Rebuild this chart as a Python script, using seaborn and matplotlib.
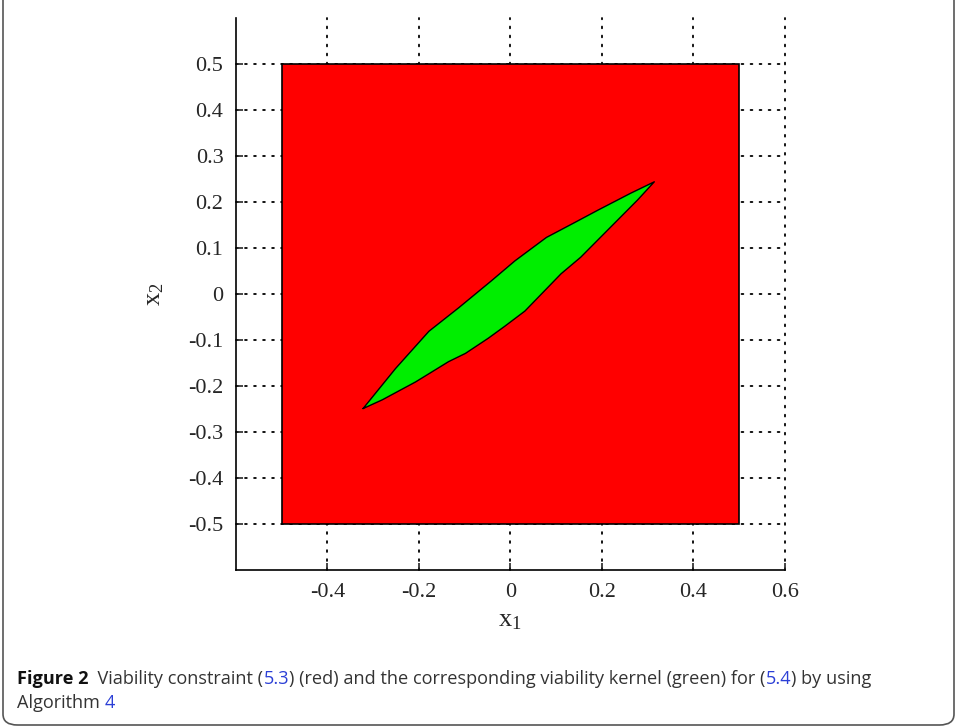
import numpy as np
import pandas as pd
import matplotlib
matplotlib.use("Agg")
import matplotlib.pyplot as plt
import seaborn as sns
from matplotlib.patches import Rectangle, FancyBboxPatch

# viability constraint (red square)
constraint_lo = -0.5
constraint_hi = 0.5

# viability kernel boundary
upper_x = [-0.322, -0.251, -0.178, -0.113, -0.041, 0.010, 0.079, 0.140, 0.191, 0.263, 0.315]
upper_y = [-0.249, -0.162, -0.081, -0.030, 0.029, 0.072, 0.123, 0.155, 0.182, 0.219, 0.244]
lower_x = [-0.322, -0.280, -0.207, -0.135, -0.098, -0.048, -0.012, 0.032, 0.111, 0.154, 0.228, 0.278, 0.315]
lower_y = [-0.249, -0.230, -0.191, -0.147, -0.129, -0.096, -0.070, -0.037, 0.044, 0.080, 0.154, 0.204, 0.244]

x_ticks = [-0.4, -0.2, 0, 0.2, 0.4, 0.6]
x_ticklabels = ["-0.4", "-0.2", "0", "0.2", "0.4", "0.6"]
y_ticks = [-0.5, -0.4, -0.3, -0.2, -0.1, 0, 0.1, 0.2, 0.3, 0.4, 0.5]
y_ticklabels = ["-0.5", "-0.4", "-0.3", "-0.2", "-0.1", "0", "0.1", "0.2", "0.3", "0.4", "0.5"]

caption_line1 = [
    ("Figure 2", "bold", "#111111"),
    ("  Viability constraint (", "normal", "#333333"),
    ("5.3", "normal", "#2b3fd6"),
    (") (red) and the corresponding viability kernel (green) for (", "normal", "#333333"),
    ("5.4", "normal", "#2b3fd6"),
    (") by using", "normal", "#333333"),
]
caption_line2 = [
    ("Algorithm ", "normal", "#333333"),
    ("4", "normal", "#2b3fd6"),
]

sns.set_style("ticks")
plt.rcParams["axes.unicode_minus"] = False

fig = plt.figure(figsize=(9.58, 7.28), dpi=100)
ax = fig.add_axes([0.2463, 0.2170, 0.5727, 0.7582])

# outline of the kernel as a closed polygon
poly_x = upper_x + lower_x[::-1]
poly_y = upper_y + lower_y[::-1]
kernel = pd.DataFrame({"x1": poly_x, "x2": poly_y})

ax.add_patch(Rectangle((constraint_lo, constraint_lo), constraint_hi - constraint_lo,
                       constraint_hi - constraint_lo, facecolor="#ff0000",
                       edgecolor="black", lw=1.2, zorder=2))
ax.fill(poly_x, poly_y, color="#00ee00", zorder=3, lw=0)
sns.lineplot(data=kernel, x="x1", y="x2", sort=False, estimator=None,
             color="black", lw=1.0, ax=ax, zorder=4)

ax.set_xlim(-0.6, 0.6)
ax.set_ylim(-0.6, 0.6)
ax.set_xticks(x_ticks)
ax.set_xticklabels(x_ticklabels)
ax.set_yticks(y_ticks)
ax.set_yticklabels(y_ticklabels)
ax.tick_params(direction="in", length=5, width=1.2, labelsize=16, pad=9)
for lab in ax.get_xticklabels() + ax.get_yticklabels():
    lab.set_fontfamily("Liberation Serif")

ax.set_axisbelow(True)
ax.grid(True, color="black", linestyle=(0, (1, 4)), lw=1.3)
for gl in ax.xaxis.get_gridlines() + ax.yaxis.get_gridlines():
    gl.set_clip_on(False)
    gl.set_dash_capstyle("round")

sns.despine(ax=ax)
for sp in ["left", "bottom"]:
    ax.spines[sp].set_linewidth(1.2)
    ax.spines[sp].set_color("black")

ax.set_xlabel(r"x$\mathregular{_1}$", fontsize=19, labelpad=6, family="Liberation Serif")
ax.set_ylabel(r"x$\mathregular{_2}$", fontsize=19, labelpad=16, family="Liberation Serif")

# frame around figure + caption
fig.patches.append(FancyBboxPatch((3 / 958, 3 / 728), 951 / 958, 740 / 728,
                                  boxstyle="round,pad=0,rounding_size=0.015",
                                  transform=fig.transFigure, facecolor="none",
                                  edgecolor="#555555", lw=1.2))


def write_pieces(pieces, x0, y0):
    fig.canvas.draw()
    renderer = fig.canvas.get_renderer()
    x = x0
    for txt, weight, color in pieces:
        t = fig.text(x, y0, txt, fontsize=13.1, fontweight=weight, color=color,
                     family="Open Sans", va="baseline", ha="left")
        bb = t.get_window_extent(renderer=renderer)
        x += bb.width / fig.bbox.width


write_pieces(caption_line1, 17 / 958, (728 - 684) / 728)
write_pieces(caption_line2, 17 / 958, (728 - 708) / 728)

fig.savefig("out.png", dpi=100)
